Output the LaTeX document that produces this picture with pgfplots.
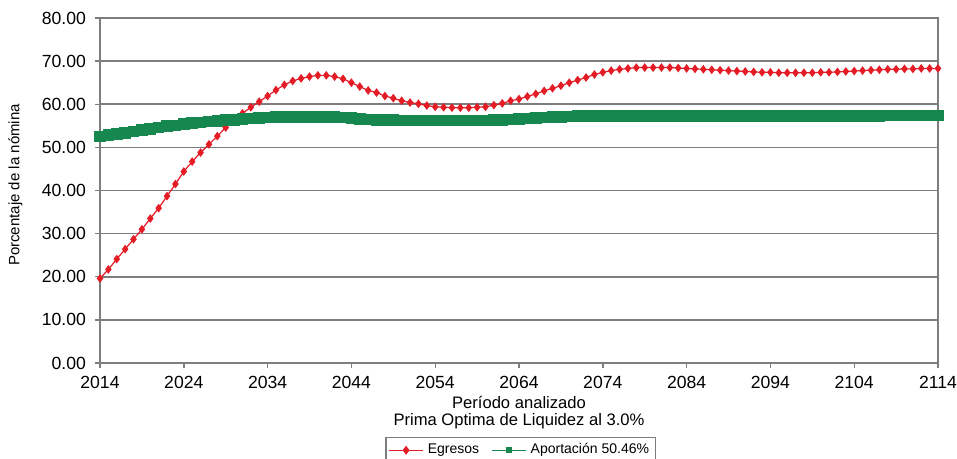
\documentclass[border=0pt]{standalone}
\usepackage{fontspec}
\setmainfont{Liberation Sans}
\usepackage{pgfplots}
\pgfplotsset{compat=1.18}
\definecolor{egr}{RGB}{228,28,38}
\definecolor{apo}{RGB}{22,135,78}
\definecolor{gridc}{RGB}{125,125,125}

\pgfplotstableread{
year egr apo
2014 19.6 52.5
2015 21.7 52.8
2016 24.1 53.1
2017 26.4 53.4
2018 28.7 53.7
2019 31.0 54.0
2020 33.5 54.3
2021 35.9 54.6
2022 38.7 54.9
2023 41.5 55.1
2024 44.4 55.4
2025 46.7 55.6
2026 48.8 55.8
2027 50.7 56.0
2028 52.6 56.1
2029 54.6 56.3
2030 56.3 56.4
2031 57.9 56.6
2032 59.3 56.7
2033 60.6 56.8
2034 61.9 56.9
2035 63.3 57.0
2036 64.5 57.0
2037 65.4 57.1
2038 66.0 57.1
2039 66.4 57.1
2040 66.7 57.1
2041 66.7 57.1
2042 66.4 57.0
2043 65.9 56.9
2044 65.0 56.8
2045 64.1 56.6
2046 63.2 56.5
2047 62.7 56.4
2048 61.9 56.3
2049 61.4 56.3
2050 60.8 56.2
2051 60.4 56.2
2052 60.1 56.2
2053 59.7 56.2
2054 59.4 56.2
2055 59.3 56.2
2056 59.2 56.2
2057 59.2 56.2
2058 59.2 56.2
2059 59.3 56.2
2060 59.4 56.2
2061 59.8 56.3
2062 60.2 56.4
2063 60.8 56.5
2064 61.2 56.6
2065 61.8 56.7
2066 62.4 56.8
2067 63.1 56.9
2068 63.7 57.0
2069 64.3 57.1
2070 65.0 57.2
2071 65.6 57.3
2072 66.2 57.3
2073 66.9 57.3
2074 67.4 57.3
2075 67.8 57.3
2076 68.1 57.3
2077 68.3 57.3
2078 68.5 57.3
2079 68.5 57.3
2080 68.5 57.3
2081 68.5 57.3
2082 68.5 57.3
2083 68.4 57.3
2084 68.3 57.3
2085 68.2 57.3
2086 68.1 57.3
2087 68.0 57.3
2088 67.9 57.3
2089 67.8 57.3
2090 67.7 57.3
2091 67.6 57.3
2092 67.5 57.3
2093 67.4 57.3
2094 67.4 57.3
2095 67.3 57.3
2096 67.3 57.3
2097 67.3 57.3
2098 67.3 57.3
2099 67.3 57.3
2100 67.4 57.3
2101 67.4 57.3
2102 67.5 57.3
2103 67.6 57.3
2104 67.7 57.3
2105 67.8 57.3
2106 67.9 57.3
2107 68.0 57.3
2108 68.1 57.4
2109 68.1 57.4
2110 68.2 57.4
2111 68.2 57.4
2112 68.3 57.4
2113 68.3 57.4
2114 68.3 57.4
}\datatable

\begin{document}
\begin{tikzpicture}
% fixed page frame: 957x459 px at 0.5pt per px, axis corner at px (100,363)
\path[use as bounding box] (-50pt,-48pt) rectangle (428.5pt,181.5pt);
\begin{axis}[
    scale only axis,
    width=419pt, height=172.5pt,
    xmin=2014, xmax=2114,
    ymin=0, ymax=80,
    xtick={2014,2024,...,2114},
    ytick={0,10,...,80},
    ymajorgrids,
    grid style={gridc, line width=0.8pt},
    axis line style={gridc, line width=0.8pt},
    tick style={gridc, line width=0.7pt},
    tick align=outside,
    major tick length=2.5pt,
    xtick pos=bottom, ytick pos=left,
    /pgf/number format/assume math mode=true,
    xticklabel style={/pgf/number format/1000 sep={}, font=\fontsize{8.8}{10}\selectfont, yshift=-0.5pt},
    yticklabel style={/pgf/number format/fixed, /pgf/number format/fixed zerofill,
        /pgf/number format/precision=2, font=\fontsize{8.8}{10}\selectfont, xshift=-1pt},
    ylabel={Porcentaje de la nómina},
    every axis y label/.style={at={(axis description cs:-0.101,0.516)}, rotate=90, anchor=center,
        font=\fontsize{7.5}{9}\selectfont},
    xlabel={Período analizado\\Prima Optima de Liquidez al 3.0\%},
    every axis x label/.style={at={(axis description cs:0.5,-0.1435)}, anchor=center, align=center,
        font=\fontsize{8.3}{8.6}\selectfont},
    legend columns=2,
    legend style={at={(axis description cs:0.502,-0.253)}, anchor=center,
        draw=gridc, line width=0.6pt, font=\fontsize{7}{8}\selectfont,
        inner sep=1.2pt, /tikz/every even column/.append style={column sep=4pt}},
    legend image post style={line width=0.7pt},
]
\addplot[egr, line width=0.6pt, mark=diamond*, mark size=1.7pt, mark options={solid, fill=egr, draw=egr}]
    table[x=year, y=egr] {\datatable};
\addlegendentry{Egresos}
\addplot[apo, line width=3.4pt, mark=square*, mark size=1.2pt, mark options={fill=apo, draw=apo}]
    table[x=year, y=apo] {\datatable};
\addlegendentry{Aportación 50.46\%}
\end{axis}
\end{tikzpicture}
\end{document}
